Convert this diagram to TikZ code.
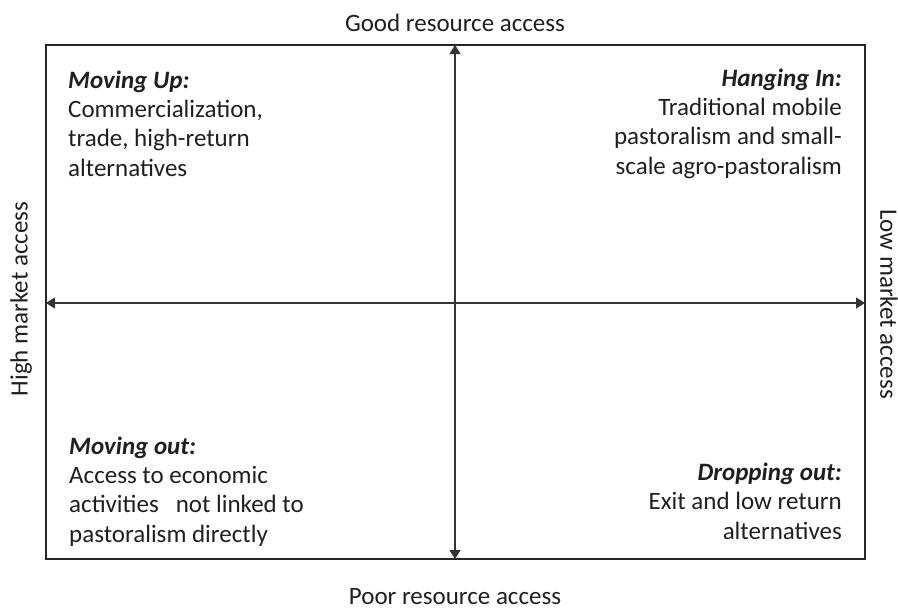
\documentclass[tikz,border=0pt]{standalone}
\usepackage{fontspec}
\setmainfont{Carlito}
\usetikzlibrary{arrows.meta}
\begin{document}
\begin{tikzpicture}[x=1pt,y=-1pt,
  frame/.style={draw=black!85, line width=1.8pt},
  axis/.style={draw=black!80, line width=1.2pt,
    {Triangle[length=9pt,width=11pt]}-{Triangle[length=9pt,width=11pt]}},
  lbl/.style={inner sep=0pt, text=black!88, font=\fontsize{25}{29.3}\selectfont},
  % multi-line nodes: the base anchor sits on the last line
  quadl/.style={lbl, align=left, anchor=base west},
  quadr/.style={lbl, align=right, anchor=base east}
]
\useasboundingbox (0,0) rectangle (898,611);

% frame corners and axis end points
\coordinate (nw) at (46,45);
\coordinate (se) at (865,559);
\coordinate (top) at (455,45);
\coordinate (bot) at (455,559);
\coordinate (lft) at (46,303);
\coordinate (rgt) at (865,303);

% the two axes, each with heads at both ends
\draw[axis] (bot) -- (top);
\draw[axis] (lft) -- (rgt);
\draw[frame] (nw) rectangle (se);

% axis labels
\node[lbl, anchor=base] (good) at (455,31) {Good resource access};
\node[lbl, anchor=base] (poor) at (455,604) {Poor resource access};
\node[lbl, rotate=90] (high) at (21,299) {High market access};
\node[lbl, rotate=-90] (low) at (889,304) {Low market access};

% quadrant texts
\node[quadl] (up) at (68,176) {{\bfseries\itshape Moving Up:}\\
  Commercialization,\\ trade, high-return\\ alternatives};
\node[quadr] (hang) at (842,174) {{\bfseries\itshape Hanging In:}\\
  Traditional mobile\\ pastoralism and small-\\ scale agro-pastoralism};
\node[quadl] (out) at (69,542) {{\bfseries\itshape Moving out:}\\
  Access to economic\\ activities\ \ \ not linked to\\ pastoralism directly};
\node[quadr] (drop) at (842,539) {{\bfseries\itshape Dropping out:}\\
  Exit and low return\\ alternatives};
\end{tikzpicture}
\end{document}
